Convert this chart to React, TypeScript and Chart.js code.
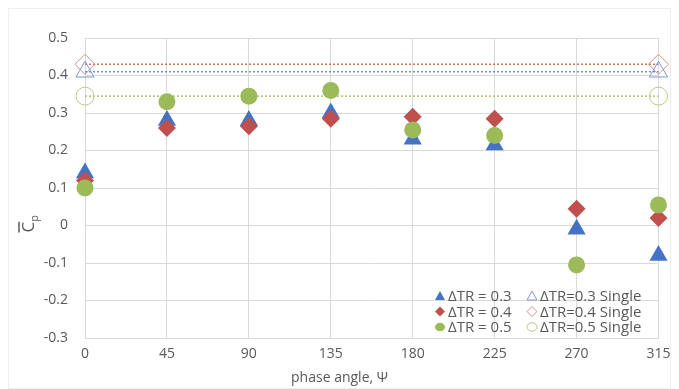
import React, { useEffect, useRef } from "react";
import { Chart, registerables } from "chart.js";

Chart.register(...registerables);

const phaseAngles = [0, 45, 90, 135, 180, 225, 270, 315];
const tr03 = [0.14, 0.28, 0.28, 0.3, 0.23, 0.215, -0.01, -0.08];
const tr04 = [0.12, 0.26, 0.265, 0.285, 0.29, 0.285, 0.045, 0.02];
const tr05 = [0.1, 0.33, 0.345, 0.36, 0.255, 0.24, -0.105, 0.055];
const singleAngles = [0, 315];
const single03 = [0.41, 0.41];
const single04 = [0.43, 0.43];
const single05 = [0.345, 0.345];
const seriesLabels = ["ΔTR = 0.3", "ΔTR = 0.4", "ΔTR = 0.5", "ΔTR=0.3 Single", "ΔTR=0.4 Single", "ΔTR=0.5 Single"];
const xTitle = "phase angle, Ψ";

const BLUE = "#4472C4";
const RED = "#C0504D";
const GREEN = "#9BBB59";
const FONT = "'Open Sans', Lato, sans-serif";
const TEXT = "#595959";

const pts = (xs: number[], ys: number[]) => xs.map((x, i) => ({ x, y: ys[i] }));

const legendPlugin = {
  id: "insideLegend",
  afterDraw(chart: any) {
    const ctx = chart.ctx;
    const area = chart.chartArea;
    const ds = chart.data.datasets;
    ctx.save();
    ctx.font = `15px ${FONT}`;
    ctx.textBaseline = "middle";
    const col1 = area.left + 355;
    const col2 = area.left + 447;
    const rows = [area.bottom - 42, area.bottom - 26.5, area.bottom - 11];
    ds.forEach((d: any, i: number) => {
      const x = i < 3 ? col1 : col2;
      const y = rows[i % 3];
      ctx.save();
      ctx.fillStyle = i < 3 ? d.backgroundColor : "rgba(255,255,255,1)";
      ctx.strokeStyle = d.pointBorderColor || d.borderColor;
      ctx.lineWidth = 1;
      const style = d.pointStyle;
      const r = 5;
      ctx.beginPath();
      if (style === "triangle") {
        ctx.moveTo(x, y - r);
        ctx.lineTo(x + r, y + r * 0.8);
        ctx.lineTo(x - r, y + r * 0.8);
        ctx.closePath();
      } else if (style === "rectRot") {
        ctx.moveTo(x, y - r);
        ctx.lineTo(x + r, y);
        ctx.lineTo(x, y + r);
        ctx.lineTo(x - r, y);
        ctx.closePath();
      } else {
        ctx.ellipse(x, y, r, r * 0.85, 0, 0, Math.PI * 2);
      }
      ctx.fill();
      if (i >= 3) ctx.stroke();
      ctx.restore();
      ctx.fillStyle = TEXT;
      ctx.fillText(d.label, x + 8, y + 1);
    });
    ctx.restore();
  },
};

const titlesPlugin = {
  id: "titles",
  afterDraw(chart: any) {
    const ctx = chart.ctx;
    ctx.save();
    ctx.fillStyle = TEXT;
    ctx.font = `14px ${FONT}`;
    ctx.textAlign = "center";
    ctx.textBaseline = "middle";
    ctx.fillText(xTitle, chart.width / 2, chart.chartArea.bottom + 40);
    ctx.restore();

    const y = chart.scales.y.getPixelForValue(0);
    ctx.save();
    ctx.translate(25, y);
    ctx.rotate(-Math.PI / 2);
    ctx.fillStyle = TEXT;
    ctx.strokeStyle = TEXT;
    ctx.textBaseline = "alphabetic";
    ctx.font = `17px ${FONT}`;
    ctx.fillText("C", -7, 0);
    const cw = ctx.measureText("C").width;
    ctx.lineWidth = 1.5;
    ctx.beginPath();
    ctx.moveTo(-7, -15);
    ctx.lineTo(-7 + cw, -15);
    ctx.stroke();
    ctx.font = `11px ${FONT}`;
    ctx.fillText("p", -7 + cw, 4);
    ctx.restore();
  },
};

export default function App() {
  const ref = useRef<HTMLCanvasElement>(null);
  useEffect(() => {
    if (!ref.current) return;
    const chart = new Chart(ref.current, {
      type: "scatter",
      data: {
        datasets: [
          {
            label: seriesLabels[0],
            data: pts(phaseAngles, tr03),
            pointStyle: "triangle",
            backgroundColor: BLUE,
            borderColor: BLUE,
            pointBorderColor: BLUE,
            pointRadius: 10.5,
            pointBorderWidth: 0,
            clip: false,
            order: 3,
          },
          {
            label: seriesLabels[1],
            data: pts(phaseAngles, tr04),
            pointStyle: "rectRot",
            backgroundColor: RED,
            borderColor: RED,
            pointBorderColor: RED,
            pointRadius: 9,
            pointBorderWidth: 0,
            clip: false,
            order: 2,
          },
          {
            label: seriesLabels[2],
            data: pts(phaseAngles, tr05),
            pointStyle: "circle",
            backgroundColor: GREEN,
            borderColor: GREEN,
            pointBorderColor: GREEN,
            pointRadius: 8.5,
            pointBorderWidth: 0,
            clip: false,
            order: 1,
          },
          {
            label: seriesLabels[3],
            data: pts(singleAngles, single03),
            pointStyle: "triangle",
            showLine: true,
            borderDash: [2, 2],
            borderWidth: 1.5,
            borderColor: "#6F8FD0",
            pointBorderColor: "#7C97D3",
            pointBackgroundColor: "rgba(255,255,255,0)",
            backgroundColor: "rgba(255,255,255,0)",
            pointRadius: 10.5,
            pointBorderWidth: 1,
            clip: false,
            order: 4,
          },
          {
            label: seriesLabels[4],
            data: pts(singleAngles, single04),
            pointStyle: "rectRot",
            showLine: true,
            borderDash: [2, 2],
            borderWidth: 1.5,
            borderColor: "#D0706D",
            pointBorderColor: "#D88A88",
            pointBackgroundColor: "rgba(255,255,255,0)",
            backgroundColor: "rgba(255,255,255,0)",
            pointRadius: 10,
            pointBorderWidth: 1,
            clip: false,
            order: 5,
          },
          {
            label: seriesLabels[5],
            data: pts(singleAngles, single05),
            pointStyle: "circle",
            showLine: true,
            borderDash: [2, 2],
            borderWidth: 1.5,
            borderColor: "#A9C46F",
            pointBorderColor: "#B5CB83",
            pointBackgroundColor: "rgba(255,255,255,0)",
            backgroundColor: "rgba(255,255,255,0)",
            pointRadius: 9,
            pointBorderWidth: 1,
            clip: false,
            order: 6,
          },
        ],
      },
      options: {
        animation: false,
        responsive: false,
        maintainAspectRatio: false,
        layout: { padding: { top: 29, right: 11, left: 0, bottom: 0 } },
        plugins: {
          legend: { display: false },
          tooltip: { enabled: false },
        },
        scales: {
          x: {
            type: "linear",
            min: 0,
            max: 315,
            afterBuildTicks: (scale: any) => {
              scale.ticks = phaseAngles.map((v) => ({ value: v }));
            },
            ticks: {
              color: TEXT,
              font: { family: FONT, size: 14 },
              padding: 8,
              maxRotation: 0,
            },
            grid: { color: "#D9D9D9", drawTicks: false },
            border: { color: "#D9D9D9" },
            afterFit: (scale: any) => {
              scale.height = 50;
              scale.paddingLeft = 0;
              scale.paddingRight = 0;
            },
          },
          y: {
            min: -0.3,
            max: 0.5,
            ticks: {
              stepSize: 0.1,
              color: TEXT,
              font: { family: FONT, size: 14 },
              padding: 17,
              callback: (v: any) => {
                const n = Math.round(Number(v) * 10) / 10;
                return n === 0 ? "0" : n.toFixed(1);
              },
            },
            grid: { color: "#D9D9D9", drawTicks: false },
            border: { color: "#D9D9D9" },
            afterFit: (scale: any) => {
              scale.width = 76;
              scale.paddingTop = 0;
              scale.paddingBottom = 0;
            },
          },
        },
      },
      plugins: [legendPlugin, titlesPlugin],
    } as any);
    return () => chart.destroy();
  }, []);
  return (
    <div style={{ width: 663, height: 381, border: "1px solid #EEEEEE", boxSizing: "border-box", background: "#fff" }}>
      <canvas ref={ref} width={661} height={379} style={{ display: "block" }} />
    </div>
  );
}
